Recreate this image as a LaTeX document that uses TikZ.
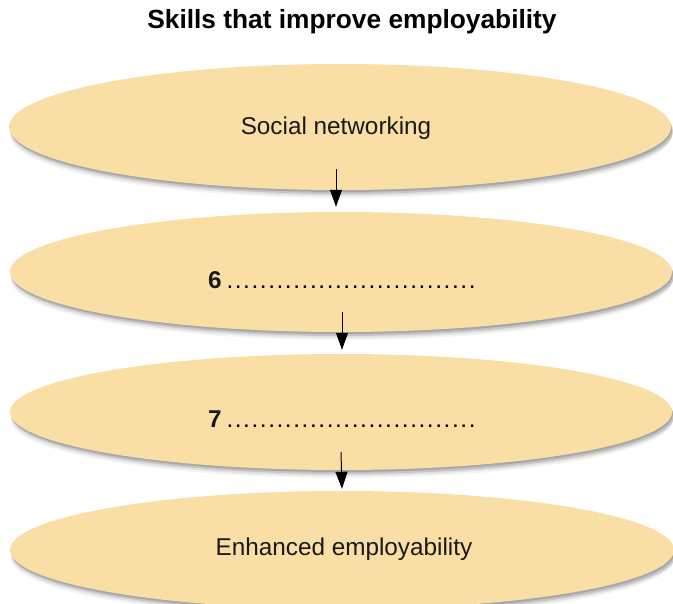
\documentclass[tikz,border=0pt]{standalone}
\usepackage{fontspec}
\setmainfont{Liberation Sans}
\usetikzlibrary{shapes.geometric,shadows,arrows.meta}
\definecolor{pill}{HTML}{F9DEA6}
\tikzset{
  pillnode/.style={ellipse, fill=pill, inner sep=0pt, draw=none,
    drop shadow={shadow xshift=1pt, shadow yshift=-8pt, fill=black!30, opacity=0.15},
    drop shadow={shadow xshift=1.5pt, shadow yshift=-6pt, fill=black!40, opacity=0.2},
    drop shadow={shadow xshift=2pt, shadow yshift=-4pt, fill=black!50, opacity=0.3},
    drop shadow={shadow xshift=1pt, shadow yshift=-2pt, fill=black!55, opacity=0.35}},
  lbl/.style={font=\fontsize{24.3}{27}\selectfont, inner sep=0pt, text=black!90},
  flow/.style={line width=1pt, -{Triangle[length=17pt,width=12pt]}}
}
\newcommand{\onedot}{\makebox[8.35pt]{.}}
\newcommand{\tendots}{\onedot\onedot\onedot\onedot\onedot\onedot\onedot\onedot\onedot\onedot}
\newcommand{\blankline}{\tendots\tendots\tendots}
\begin{document}
\begin{tikzpicture}[x=1pt,y=-1pt]
\useasboundingbox (0,0) rectangle (673,604);
\node[font=\bfseries\fontsize{26.3}{29}\selectfont, inner sep=0pt] (title) at (352,22) {Skills that improve employability};
\node[pillnode, minimum width=662pt, minimum height=126pt] (e1) at (340,127) {};
\node[pillnode, minimum width=662pt, minimum height=120pt] (e2) at (341,272) {};
\node[pillnode, minimum width=662pt, minimum height=116pt] (e3) at (341,412) {};
\node[pillnode, minimum width=664pt, minimum height=118pt] (e4) at (342,550) {};
\node[lbl] (t1) at (336,128) {Social networking};
\node[lbl, anchor=base west] (t2) at (208,289) {\textbf{6}\hspace{4pt}\textcolor{black}{\blankline}};
\node[lbl, anchor=base west] (t3) at (208,428) {\textbf{7}\hspace{4pt}\textcolor{black}{\blankline}};
\node[lbl] (t4) at (344,549) {Enhanced employability};
\draw[flow] ([xshift=-4pt,yshift=21pt]e1.south) -- ([xshift=-5pt,yshift=5pt]e2.north);
\draw[flow] ([xshift=1pt,yshift=20pt]e2.south) -- ([xshift=1pt,yshift=4pt]e3.north);
\draw[flow] ([xshift=0pt,yshift=18pt]e3.south) -- ([xshift=0pt,yshift=2pt]e4.north);
\end{tikzpicture}
\end{document}
